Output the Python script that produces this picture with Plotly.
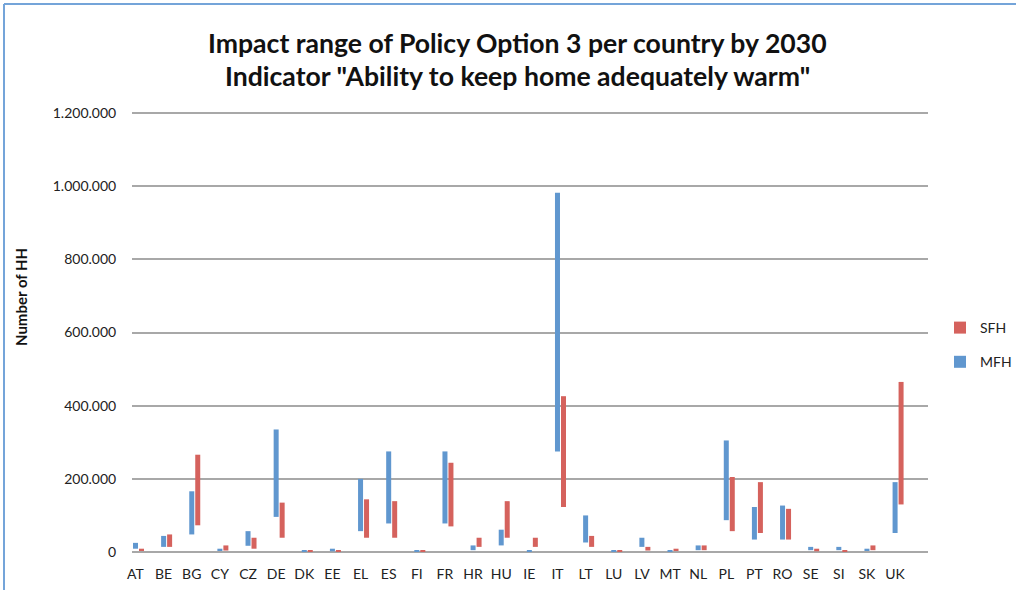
import plotly.graph_objects as go

# Countries and impact ranges (number of households) for each building type
countries = ["AT", "BE", "BG", "CY", "CZ", "DE", "DK", "EE", "EL", "ES", "FI", "FR", "HR", "HU",
             "IE", "IT", "LT", "LU", "LV", "MT", "NL", "PL", "PT", "RO", "SE", "SI", "SK", "UK"]

mfh_low = [9000, 14000, 48000, 4000, 17000, 96000, 1000, 2000, 57000, 78000, 1000, 78000, 5000, 18000,
           1000, 275000, 26000, 1000, 14000, 1000, 5000, 87000, 34000, 34000, 5000, 5000, 4000, 52000]
mfh_high = [25000, 44000, 166000, 9000, 57000, 335000, 4000, 9000, 200000, 275000, 4000, 275000, 18000, 61000,
            4000, 982000, 100000, 4000, 39000, 4000, 18000, 305000, 123000, 127000, 14000, 14000, 9000, 191000]

sfh_low = [4000, 14000, 73000, 4000, 9000, 39000, 1000, 1000, 39000, 39000, 1000, 70000, 14000, 39000,
           14000, 123000, 14000, 1000, 4000, 4000, 5000, 57000, 52000, 34000, 2000, 1000, 5000, 130000]
sfh_high = [9000, 48000, 266000, 18000, 39000, 135000, 5000, 5000, 144000, 139000, 4000, 244000, 39000, 139000,
            39000, 426000, 44000, 5000, 14000, 9000, 18000, 205000, 191000, 118000, 9000, 4000, 18000, 465000]

y_ticks = [0, 200000, 400000, 600000, 800000, 1000000, 1200000]

title_lines = ["Impact range of Policy Option 3 per country by 2030",
               "Indicator \"Ability to keep home adequately warm\""]

BLUE = "#6097CF"
RED = "#D5625D"
FONT = "Lato"

fig = go.Figure()

fig.add_trace(go.Bar(
    name="MFH", x=countries,
    y=[h - l for l, h in zip(mfh_low, mfh_high)], base=mfh_low,
    width=0.178, offset=-0.089,
    marker=dict(color=BLUE, line=dict(width=0)),
    legendgroup="mfh", legendrank=2,
))
fig.add_trace(go.Bar(
    name="SFH", x=countries,
    y=[h - l for l, h in zip(sfh_low, sfh_high)], base=sfh_low,
    width=0.178, offset=0.124,
    marker=dict(color=RED, line=dict(width=0)),
    legendgroup="sfh", legendrank=1,
))

# plot area in pixels: x 132..928, y 112..552 (range padded a little above 1.2M
# so the top gridline is drawn)
L, R, T, B = 132, 88, 112, 38
W, H = 1016, 590
pw, ph = W - L - R, H - T - B


def px_x(px):
    return (px - L) / pw


def px_y(py):
    return (H - B - py) / ph


annotations = [
    dict(text=f"<b>{title_lines[0]}</b>", x=px_x(517), y=px_y(43), xref="paper", yref="paper",
         showarrow=False, xanchor="center", yanchor="middle",
         font=dict(family=FONT, size=26.6, color="#111111")),
    dict(text=f"<b>{title_lines[1]}</b>", x=px_x(517), y=px_y(76), xref="paper", yref="paper",
         showarrow=False, xanchor="center", yanchor="middle",
         font=dict(family=FONT, size=26.6, color="#111111")),
    dict(text="<b>Number of HH</b>", x=px_x(21), y=px_y(297), xref="paper", yref="paper",
         showarrow=False, xanchor="center", yanchor="middle", textangle=-90,
         font=dict(family=FONT, size=15, color="#111111")),
]

# frame lines along the left and top edges
shapes = [
    dict(type="line", xref="paper", yref="paper", x0=px_x(4), x1=px_x(4), y0=px_y(4), y1=px_y(592),
         line=dict(color="#74A4D9", width=2)),
    dict(type="line", xref="paper", yref="paper", x0=px_x(4), x1=px_x(1018), y0=px_y(4), y1=px_y(4),
         line=dict(color="#74A4D9", width=2)),
]

fig.update_layout(
    width=W, height=H,
    margin=dict(l=L, r=R, t=T, b=B, pad=0, autoexpand=False),
    paper_bgcolor="white", plot_bgcolor="white",
    separators=",.",
    font=dict(family=FONT, size=14, color="#222222"),
    barmode="overlay",
    showlegend=True,
    legend=dict(xref="container", yref="container", x=940 / W, y=1 - 312 / H,
                xanchor="left", yanchor="top",
                traceorder="grouped", tracegroupgap=13,
                font=dict(family=FONT, size=14, color="#222222"),
                bgcolor="rgba(0,0,0,0)"),
    annotations=annotations,
    shapes=shapes,
    xaxis=dict(type="category", range=[-0.124, 28.17], showgrid=False, zeroline=False,
               showline=False, ticks="outside", ticklen=9, tickcolor="rgba(0,0,0,0)",
               tickfont=dict(family=FONT, size=14, color="#222222")),
    yaxis=dict(range=[0, 1203000], tickvals=y_ticks, tickformat=",d",
               showgrid=True, gridcolor="#A8A8A8", gridwidth=2,
               zeroline=True, zerolinecolor="#A8A8A8", zerolinewidth=2,
               showline=False, ticks="outside", ticklen=12, tickcolor="rgba(0,0,0,0)",
               tickfont=dict(family=FONT, size=14, color="#222222")),
)

fig.write_html("out.html")
